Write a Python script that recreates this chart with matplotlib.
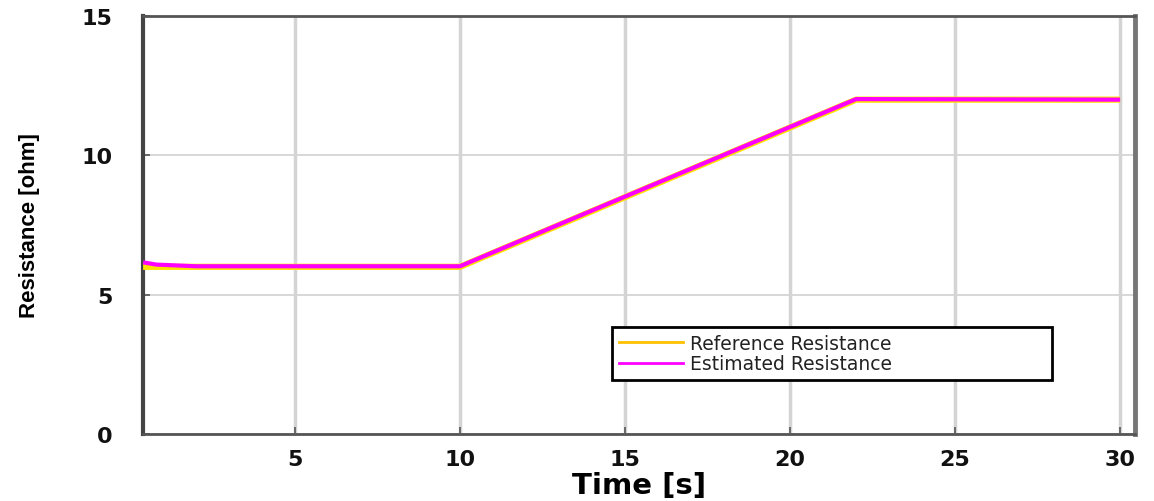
import numpy as np
import matplotlib
matplotlib.use("Agg")
import matplotlib.pyplot as plt

# Resistance profile breakpoints (time in s, resistance in ohm)
ref_time = [0.4, 10.0, 22.0, 30.0]
ref_res = [6.0, 6.0, 12.0, 12.0]
est_time = [0.4, 0.8, 2.0, 10.0, 22.0, 30.0]
est_res = [6.16, 6.08, 6.02, 6.02, 12.02, 12.0]

x_ticks = [5, 10, 15, 20, 25, 30]
y_ticks = [0, 5, 10, 15]

fig = plt.figure(figsize=(11.54, 5.02), dpi=100)
ax = fig.add_axes([0.124, 0.1335, 0.8595, 0.8325])

ax.plot(ref_time, ref_res, color="#FFE000", lw=4.5, label="Reference Resistance",
        solid_capstyle="butt", zorder=3)
ax.plot(est_time, est_res, color="#FF00FF", lw=3.0, label="Estimated Resistance",
        solid_capstyle="butt", zorder=4)

ax.set_xlim(0.4, 30.45)
ax.set_ylim(0, 15)
ax.set_xticks(x_ticks)
ax.set_yticks(y_ticks)
ax.xaxis.grid(True, color="#d4d4d4", lw=2.5)
ax.yaxis.grid(True, color="#d4d4d4", lw=1.3)
ax.set_axisbelow(True)

ax.tick_params(axis="both", direction="in", length=5, width=1.2, color="#555555",
               labelsize=16)
ax.tick_params(axis="x", pad=11)
ax.tick_params(axis="y", pad=22)
for lab in ax.get_xticklabels() + ax.get_yticklabels():
    lab.set_fontweight("heavy")
    lab.set_family("DejaVu Sans")
    lab.set_color("#111111")

for side, lw, col in [("left", 3.0, "#444444"), ("right", 3.5, "#777777"),
                      ("top", 2.0, "#555555"), ("bottom", 2.0, "#555555")]:
    ax.spines[side].set_linewidth(lw)
    ax.spines[side].set_color(col)

ax.set_xlabel("Time [s]", fontsize=21, fontweight="bold", family="DejaVu Sans",
              labelpad=1)
ax.set_ylabel("Resistance [ohm]", fontsize=16, fontweight="bold",
              family=["Liberation Sans", "DejaVu Sans"], labelpad=30)

handles, labels = ax.get_legend_handles_labels()
handles[0] = plt.Line2D([], [], color="#FFC000", lw=2)
handles[1] = plt.Line2D([], [], color="#FF00FF", lw=2)
leg = ax.legend(handles, labels, loc="upper left",
                bbox_to_anchor=(0.473, 0.122, 0.443, 0.134), mode="expand",
                fancybox=False, framealpha=1, edgecolor="black",
                prop={"family": "DejaVu Sans", "size": 13.5},
                handlelength=3.4, handletextpad=0.4, borderpad=0.35,
                borderaxespad=0, labelspacing=0.1)
leg.get_frame().set_linewidth(2.0)
for t in leg.get_texts():
    t.set_color("#222222")

fig.savefig("out.png", dpi=100)
